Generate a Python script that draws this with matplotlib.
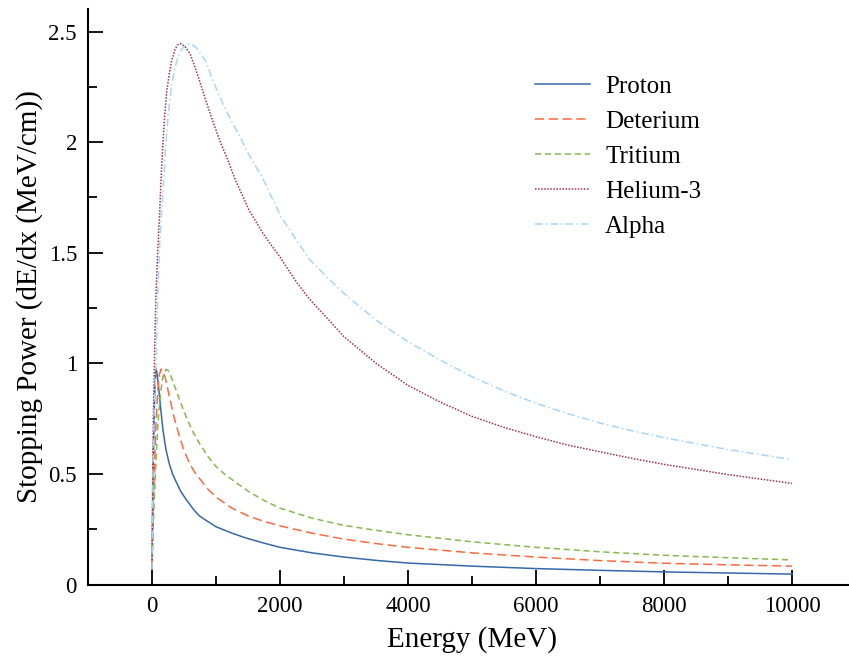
import matplotlib
matplotlib.use("Agg")
from matplotlib import pyplot as plt
from matplotlib.ticker import MultipleLocator

# values
proton_E = [0, 10, 20, 30, 45, 62, 80, 100, 120, 141, 170, 217, 270, 320,
            375, 450, 520, 583, 660, 740, 844, 1000, 1250, 1470, 1750, 2000,
            2500, 3000, 3500, 4000, 5000, 6000, 7000, 8000, 9000, 10000]
proton_S = [0.07, 0.35, 0.55, 0.72, 0.90, 0.977, 0.95, 0.90, 0.84, 0.78,
            0.70, 0.61, 0.545, 0.50, 0.465, 0.42, 0.39, 0.365, 0.335, 0.31,
            0.29, 0.261, 0.232, 0.21, 0.187, 0.168, 0.143, 0.124, 0.109,
            0.097, 0.083, 0.072, 0.064, 0.057, 0.052, 0.047]

deut_E = [0, 20, 40, 60, 90, 115, 141, 170, 210, 271, 340, 427, 500, 583,
          660, 740, 860, 1000, 1250, 1500, 1750, 2000, 2500, 3000, 3500, 4000,
          5000, 6000, 7000, 8000, 9000, 10000]
deut_S = [0.07, 0.35, 0.55, 0.72, 0.88, 0.95, 0.974, 0.965, 0.93, 0.85, 0.76,
          0.67, 0.605, 0.55, 0.51, 0.48, 0.435, 0.395, 0.345, 0.31, 0.285,
          0.265, 0.232, 0.205, 0.185, 0.168, 0.143, 0.124, 0.108, 0.096,
          0.089, 0.083]

trit_E = [0, 30, 60, 90, 130, 170, 219, 260, 310, 375, 450, 531, 630, 740,
          870, 1000, 1130, 1260, 1520, 1750, 2000, 2500, 3000, 3500, 4000,
          5000, 6000, 7000, 8000, 9000, 10000]
trit_S = [0.07, 0.35, 0.55, 0.72, 0.86, 0.94, 0.973, 0.965, 0.93, 0.879,
          0.82, 0.759, 0.695, 0.638, 0.58, 0.533, 0.50, 0.472, 0.418, 0.38,
          0.345, 0.30, 0.267, 0.245, 0.225, 0.193, 0.168, 0.148, 0.132,
          0.121, 0.111]

he3_E = [0, 10, 20, 36, 60, 89, 114, 145, 177, 200, 230, 270, 307, 360, 400,
         453, 520, 594, 670, 750, 850, 955, 1080, 1170, 1300, 1520, 1750,
         2000, 2250, 2460, 2750, 3000, 3250, 3500, 3750, 4000, 4500, 5000,
         5500, 6000, 6500, 7000, 7500, 8000, 9000, 10000]
he3_S = [0.07, 0.50, 0.75, 1.0, 1.30, 1.51, 1.65, 1.86, 2.03, 2.13, 2.23,
         2.31, 2.37, 2.42, 2.44, 2.445, 2.43, 2.40, 2.34, 2.27, 2.18, 2.09,
         1.99, 1.93, 1.83, 1.69, 1.58, 1.48, 1.37, 1.29, 1.20, 1.12, 1.06,
         1.0, 0.95, 0.90, 0.825, 0.76, 0.71, 0.668, 0.63, 0.60, 0.57, 0.543,
         0.497, 0.457]

alpha_E = [0, 15, 35, 62, 90, 115, 141, 177, 210, 239, 270, 302, 340, 380,
           440, 520, 598, 680, 760, 848, 950, 1050, 1130, 1250, 1364, 1500,
           1620, 1723, 1870, 2020, 2250, 2460, 2750, 3000, 3250, 3500, 3750,
           4000, 4500, 5000, 5500, 6000, 6500, 7000, 7500, 8000, 9000, 10000]
alpha_S = [0.07, 0.50, 0.80, 1.0, 1.30, 1.51, 1.65, 1.80, 1.97, 2.08, 2.17,
           2.25, 2.31, 2.36, 2.41, 2.44, 2.445, 2.43, 2.40, 2.36, 2.28, 2.21,
           2.16, 2.09, 2.03, 1.95, 1.89, 1.84, 1.75, 1.66, 1.56, 1.47, 1.385,
           1.316, 1.255, 1.196, 1.145, 1.098, 1.015, 0.939, 0.875, 0.819,
           0.772, 0.73, 0.695, 0.664, 0.61, 0.565]

labels = ["Proton", "Deterium", "Tritium", "Helium-3", "Alpha"]


def main():
    plt.rcParams["font.family"] = ["Liberation Serif", "DejaVu Serif"]
    fig = plt.figure(figsize=(8.49, 6.58), dpi=100)
    ax = fig.add_axes([0.1037, 0.1117, 0.9046, 0.874])

    ax.plot(proton_E, proton_S, color="#3569a8", lw=1.1, label=labels[0])
    ax.plot(deut_E, deut_S, color="#f96a3e", lw=1.1, dashes=(6, 3),
            label=labels[1])
    ax.plot(trit_E, trit_S, color="#86b84e", lw=1.1, dashes=(4, 2.5),
            label=labels[2])
    ax.plot(he3_E, he3_S, color="#a0334f", lw=1.1, dashes=(1, 1),
            label=labels[3])
    ax.plot(alpha_E, alpha_S, color="#a8d5f8", lw=1.1, dashes=(5, 2, 1, 2),
            label=labels[4])

    ax.set_xlim(-1000, 11000)
    ax.set_ylim(0, 2.6)
    ax.xaxis.set_major_locator(MultipleLocator(2000))
    ax.xaxis.set_minor_locator(MultipleLocator(1000))
    ax.yaxis.set_minor_locator(MultipleLocator(0.25))
    ax.set_yticks([0, 0.5, 1, 1.5, 2, 2.5])
    ax.set_yticklabels(["0", "0.5", "1", "1.5", "2", "2.5"])

    for s in ["top", "right"]:
        ax.spines[s].set_visible(False)
    for s in ["left", "bottom"]:
        ax.spines[s].set_linewidth(1.5)
    ax.tick_params(which="both", direction="in", width=1.3, labelsize=16.5,
                   pad=8)
    ax.tick_params(which="major", length=11)
    ax.tick_params(which="minor", length=6.5)

    ax.set_xlabel("Energy (MeV)", fontsize=21, labelpad=7)
    ax.set_ylabel("Stopping Power (dE/dx (MeV/cm))", fontsize=21, labelpad=4)

    ax.legend(loc="upper left", bbox_to_anchor=(0.553, 0.924), frameon=False,
              fontsize=18, handlelength=2.2, handletextpad=0.6,
              labelspacing=0.5)

    fig.savefig("out.png", dpi=100)


if __name__ == "__main__":
    main()
